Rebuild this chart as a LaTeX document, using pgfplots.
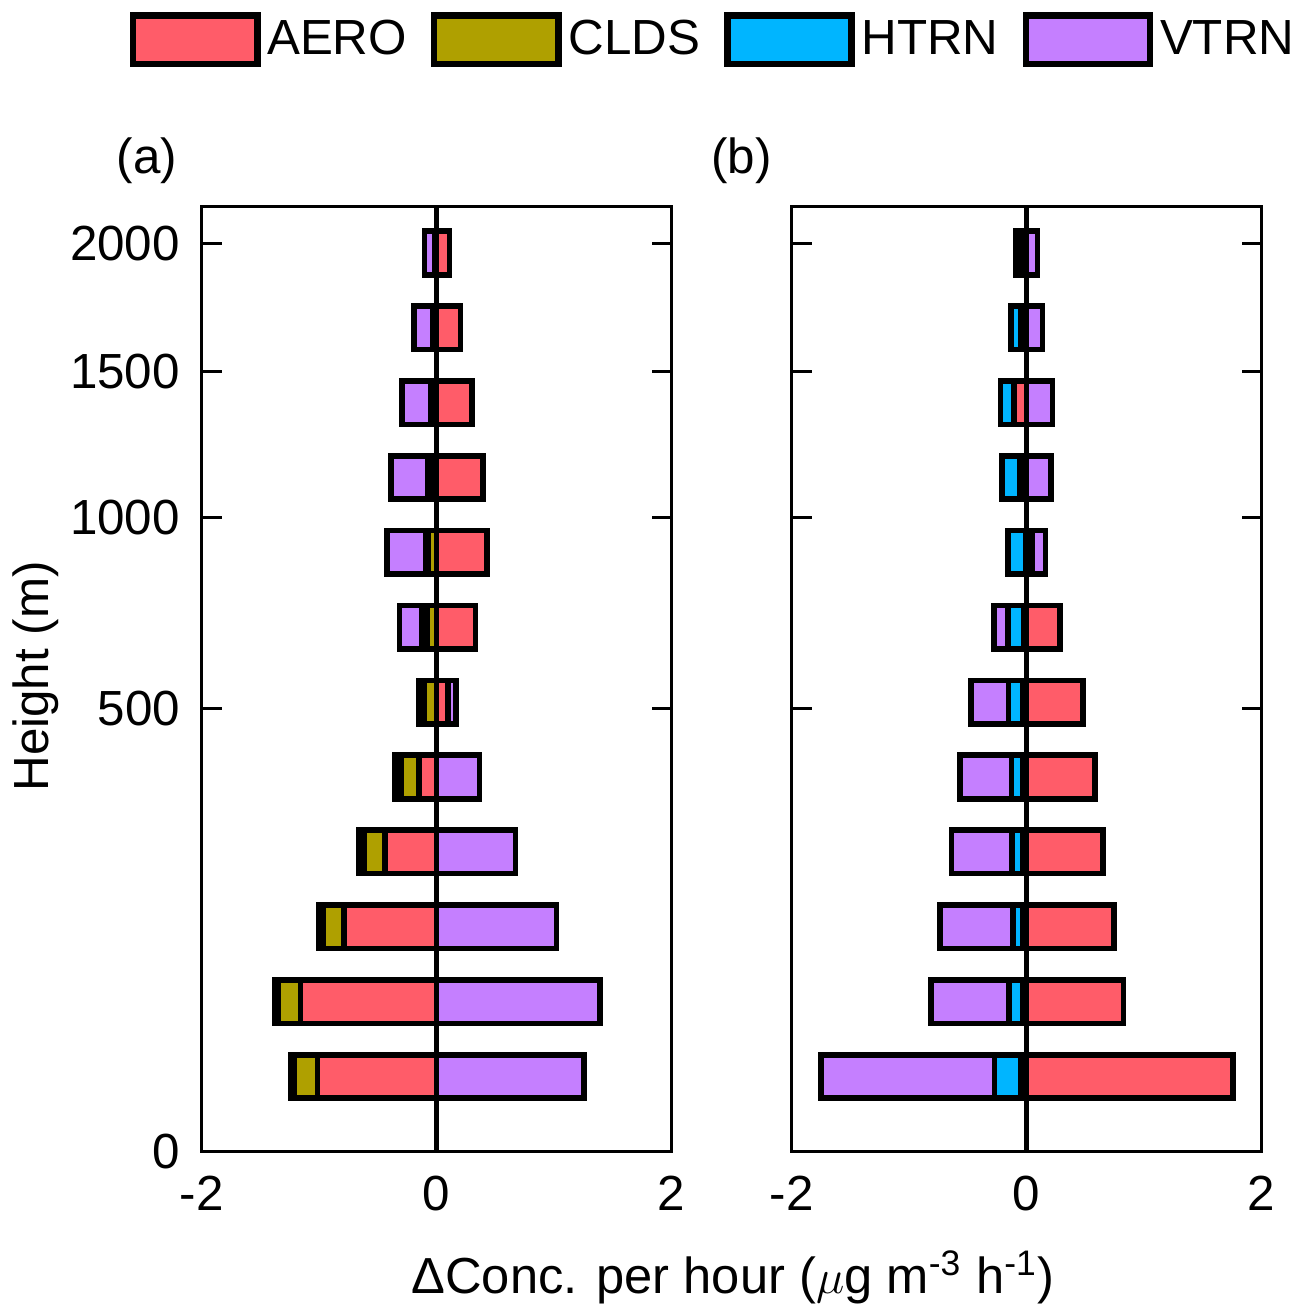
\documentclass[border=0pt]{standalone}
\usepackage{pgfplots}
\pgfplotsset{compat=1.18}
\usepackage{pgfplotstable}
\usepackage{fontspec}
\setmainfont{Liberation Sans}
\definecolor{caero}{HTML}{FF5C69}
\definecolor{cclds}{HTML}{AFA000}
\definecolor{chtrn}{HTML}{00B5FF}
\definecolor{cvtrn}{HTML}{C57FFF}
\newcommand\lbl{\fontsize{14.8}{17}\selectfont}
\newcommand\xlbl{\fontsize{15.2}{18}\selectfont}

% level (model layer index), signed component tendencies
\pgfplotstableread{
lev aero clds htrn vtrn
1 -1.014 -0.196 -0.034 1.252
2 -1.159 -0.190 -0.026 1.388
3 -0.790 -0.176 -0.040 1.020
4 -0.441 -0.172 -0.047 0.671
5 -0.152 -0.153 -0.047 0.364
6 0.095 -0.108 -0.047 0.071
7 0.330 -0.081 -0.043 -0.193
8 0.430 -0.070 -0.025 -0.326
9 0.396 -0.035 -0.038 -0.314
10 0.302 -0.020 -0.027 -0.250
11 0.203 -0.013 -0.020 -0.162
12 0.109 -0.005 -0.008 -0.091
}\dataA

\pgfplotstableread{
lev aero clds htrn vtrn
1 1.756 -0.047 -0.227 -1.479
2 0.823 -0.031 -0.119 -0.662
3 0.746 -0.031 -0.088 -0.619
4 0.650 -0.034 -0.090 -0.515
5 0.580 -0.034 -0.096 -0.438
6 0.478 -0.034 -0.121 -0.320
7 0.283 -0.025 -0.136 -0.119
8 0.048 -0.010 -0.151 0.113
9 -0.030 -0.029 -0.150 0.206
10 -0.104 -0.002 -0.117 0.221
11 -0.030 -0.021 -0.085 0.136
12 -0.035 -0.020 -0.041 0.093
}\dataB

\pgfplotsset{
  panel/.style={
    scale only axis, width=141pt, height=283.45pt,
    xmin=-2, xmax=2, ymin=0, ymax=12.62,
    xbar stacked, bar width=0.582,
    axis line style={line width=1pt},
    xtick={-2,0,2}, xticklabels={-2,0,2},
    ytick={0,5.92,8.47,10.415,12.13},
    major tick length=6pt, tick align=inside,
    ytick style={line width=0.9pt, black},
    xtick style={draw=none},
    ytick pos=both, yticklabel pos=left,
    tick label style={font=\lbl},
    yticklabel style={xshift=-3pt},
    xticklabel style={yshift=-4pt},
    every axis plot/.append style={draw=black, line width=1.7pt},
  },
  hid/.style={panel, hide axis},
  sw/.style={legend image code/.code={\draw[##1, draw=black, line width=1.95pt] (0pt,-7.25pt) rectangle (37.3pt,7.25pt);}},
}

\begin{document}
\begin{tikzpicture}
\useasboundingbox (0,0) rectangle (391.5pt,394.5pt);
% ---- panel (a): negative parts
\begin{axis}[hid, at={(60.5pt,49.1pt)}, anchor=south west]
\addplot[fill=caero] table[y=lev, x expr={min(\thisrow{aero},0)}] {\dataA};
\addplot[fill=cclds] table[y=lev, x expr={min(\thisrow{clds},0)}] {\dataA};
\addplot[fill=chtrn] table[y=lev, x expr={min(\thisrow{htrn},0)}] {\dataA};
\addplot[fill=cvtrn] table[y=lev, x expr={min(\thisrow{vtrn},0)}] {\dataA};
\end{axis}
% ---- panel (a): positive parts
\begin{axis}[panel, at={(60.5pt,49.1pt)}, anchor=south west,
  yticklabels={0,500,1000,1500,2000},
  legend columns=4,
  legend style={at={(-0.1546,1.1766)}, anchor=west, draw=none, fill=none,
    inner sep=0pt, font=\lbl, nodes={inner sep=0.5pt},
    /tikz/every odd column/.append style={column sep=1.5pt},
    /tikz/every even column/.append style={column sep=6.7pt}}]
\addplot[fill=caero, sw] table[y=lev, x expr={max(\thisrow{aero},0)}] {\dataA};
\addplot[fill=cclds, sw] table[y=lev, x expr={max(\thisrow{clds},0)}] {\dataA};
\addplot[fill=chtrn, sw] table[y=lev, x expr={max(\thisrow{htrn},0)}] {\dataA};
\addplot[fill=cvtrn, sw] table[y=lev, x expr={max(\thisrow{vtrn},0)}] {\dataA};
\legend{AERO,CLDS,HTRN,VTRN}
\draw[line width=1.7pt] (axis cs:0,0) -- (axis cs:0,12.62);
\end{axis}
% ---- panel (b): negative parts
\begin{axis}[hid, at={(237.5pt,49.1pt)}, anchor=south west]
\addplot[fill=caero] table[y=lev, x expr={min(\thisrow{aero},0)}] {\dataB};
\addplot[fill=cclds] table[y=lev, x expr={min(\thisrow{clds},0)}] {\dataB};
\addplot[fill=chtrn] table[y=lev, x expr={min(\thisrow{htrn},0)}] {\dataB};
\addplot[fill=cvtrn] table[y=lev, x expr={min(\thisrow{vtrn},0)}] {\dataB};
\end{axis}
% ---- panel (b): positive parts
\begin{axis}[panel, at={(237.5pt,49.1pt)}, anchor=south west, yticklabels={}]
\addplot[fill=caero] table[y=lev, x expr={max(\thisrow{aero},0)}] {\dataB};
\addplot[fill=cclds] table[y=lev, x expr={max(\thisrow{clds},0)}] {\dataB};
\addplot[fill=chtrn] table[y=lev, x expr={max(\thisrow{htrn},0)}] {\dataB};
\addplot[fill=cvtrn] table[y=lev, x expr={max(\thisrow{vtrn},0)}] {\dataB};
\draw[line width=1.7pt] (axis cs:0,0) -- (axis cs:0,12.62);
\end{axis}
\node[font=\lbl, anchor=base] at (44.1pt,342.5pt) {(a)};
\node[font=\lbl, anchor=base] at (222.4pt,342.5pt) {(b)};
\node[font=\lbl, rotate=90, anchor=base] at (14.5pt,191.6pt) {Height (m)};
\node[font=\xlbl, anchor=base] at (219.9pt,6.5pt) {ΔConc. per hour ($\mu$g m\textsuperscript{-3} h\textsuperscript{-1})};
\end{tikzpicture}
\end{document}
